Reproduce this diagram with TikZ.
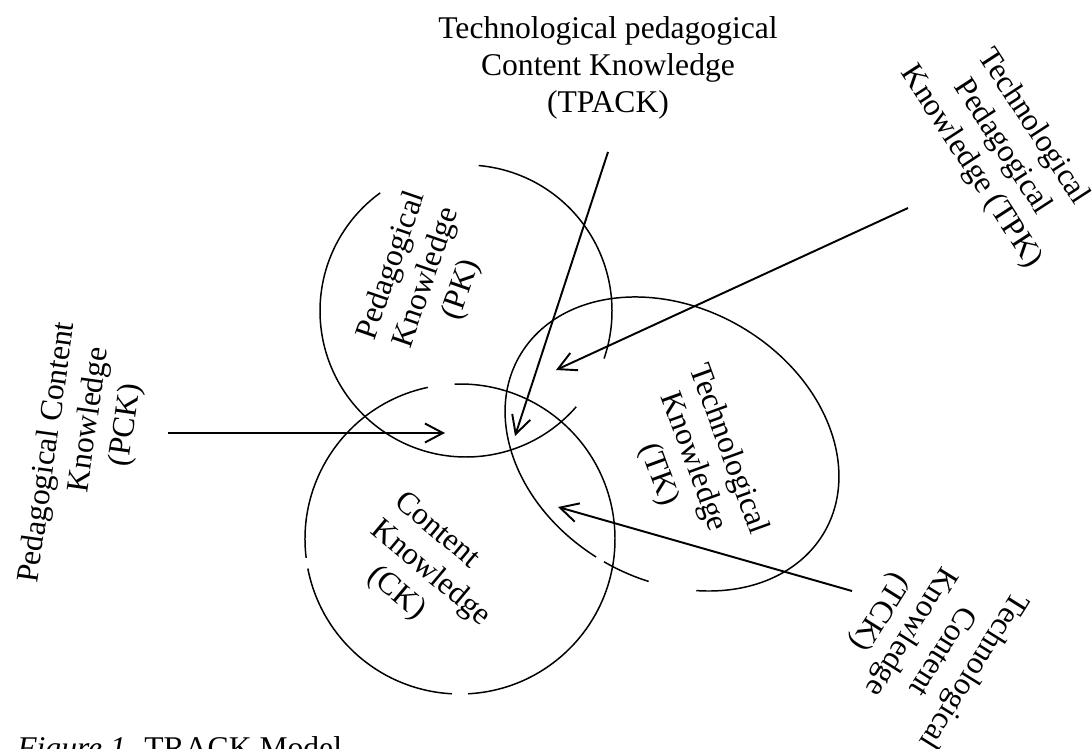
\documentclass[tikz,border=0pt]{standalone}
\usepackage{fontspec}
\setmainfont{Liberation Serif}
\usetikzlibrary{arrows.meta}
\tikzstyle{lbl}=[inner sep=0pt, align=center, font=\fontsize{18}{21}\selectfont]
\tikzstyle{ring}=[line width=0.85pt]
\tikzstyle{ptr}=[line width=1.1pt, -{Straight Barb[length=3.6mm,width=3.8mm]}]

\begin{document}
\begin{tikzpicture}[x=0.02cm, y=-0.02cm]
	\useasboundingbox (0,0) rectangle (1092,749);

	% pedagogical knowledge
	\draw[ring] (466,311) ++(-85:146) arc[start angle=-85, end angle=19, radius=146];
	\draw[ring] (466,311) ++(41:146) arc[start angle=41, end angle=234, radius=146];

	% content knowledge
	\draw[ring] (460,539) ++(93:155) arc[start angle=93, end angle=169, radius=155];
	\draw[ring] (460,539) ++(173:155) arc[start angle=173, end angle=258, radius=155];
	\draw[ring] (460,539) ++(268:155) arc[start angle=268, end angle=447, radius=155];

	% technological knowledge
	\begin{scope}[shift={(672,444)}, rotate=-30]
		\draw[ring] (93:176 and 136) arc[start angle=93, end angle=417.6, x radius=176, y radius=136];
		\draw[ring] (74:176 and 136) arc[start angle=74, end angle=90, x radius=176, y radius=136];
	\end{scope}

	\node[lbl, rotate=71] (pk) at (427,278) {Pedagogical\\Knowledge\\(PK)};
	\node[lbl, rotate=-40, align=left] (ck) at (430,574) {Content\\Knowledge\\\hspace*{0.85em}(CK)};
	\node[lbl, rotate=-70] (tk) at (693,462) {Technological\\Knowledge\\(TK)};

	\node[lbl] (tpack) at (608,68) {Technological pedagogical\\Content Knowledge\\(TPACK)};
	\node[lbl, rotate=82] (pck) at (90,420) {Pedagogical Content\hspace{2.4em}\mbox{}\\Knowledge\\(PCK)};
	\node[lbl, rotate=-57] (tpk) at (1002,147) {Technological\\Pedagogical\\Knowledge (TPK)};
	\node[lbl, rotate=-122] (tck) at (926,641) {Technological\\Content\\Knowledge\\(TCK)};

	\node[lbl, anchor=base west] (cap) at (17,758) {\textit{Figure 1.} TRACK Model};

	\coordinate (pcktail) at (168,433);
	\coordinate (pcktip) at (445,433);
	\coordinate (tpacktail) at (608,152);
	\coordinate (tpacktip) at (515,436);
	\coordinate (tpktail) at (908,208);
	\coordinate (tpktip) at (556,370);
	\coordinate (tcktail) at (852,591);
	\coordinate (tcktip) at (558,507);

	\draw[ptr] (pcktail) -- (pcktip);
	\draw[ptr] (tpacktail) -- (tpacktip);
	\draw[ptr] (tpktail) -- (tpktip);
	\draw[ptr] (tcktail) -- (tcktip);
\end{tikzpicture}
\end{document}
